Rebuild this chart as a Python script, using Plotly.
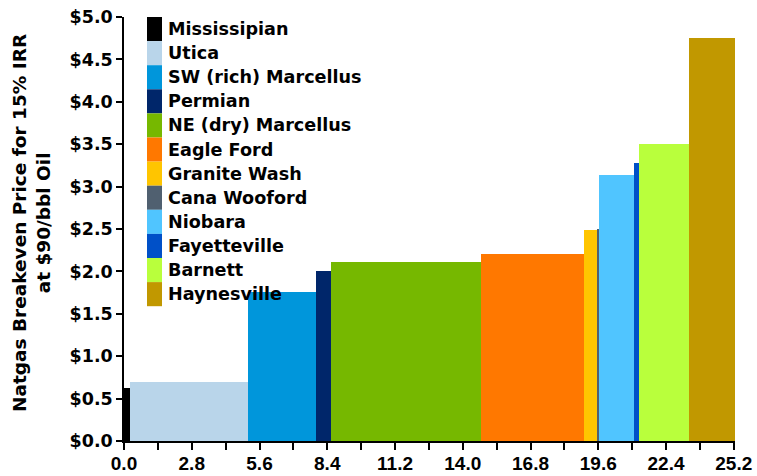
import numpy as np
import plotly.graph_objects as go

# Shale plays, ordered along the supply curve
plays = ["Mississipian", "Utica", "SW (rich) Marcellus", "Permian", "NE (dry) Marcellus",
         "Eagle Ford", "Granite Wash", "Cana Wooford", "Niobara", "Fayetteville",
         "Barnett", "Haynesville"]
# Breakeven natgas price ($/Mcf) for each play
prices = [0.62, 0.69, 1.76, 2.00, 2.11, 2.20, 2.49, 2.50, 3.14, 3.28, 3.50, 4.75]
# Width of each block along the x axis
widths = [0.25, 4.87, 2.81, 0.62, 6.20, 4.25, 0.57, 0.05, 1.46, 0.21, 2.07, 1.87]
colors = ["#000000", "#B9D5EA", "#0096DB", "#00266A", "#76B800", "#FF7800",
          "#FFC500", "#506070", "#50C5FF", "#0050C8", "#B9FF3C", "#C19800"]

x_tickvals = [round(1.4 * i, 1) for i in range(19)]
x_ticktext = [f"{v:.1f}" if i % 2 == 0 else "" for i, v in enumerate(x_tickvals)]
y_tickvals = [0.5 * i for i in range(11)]
y_ticktext = [f"${v:.1f}" for v in y_tickvals]

lefts = np.concatenate([[0], np.cumsum(widths)[:-1]])
centers = lefts + np.array(widths) / 2

W, H = 757, 476
ml, mr, mt, mb = 124, 22, 17, 35
pw, ph = W - ml - mr, H - mt - mb

fig = go.Figure()
for name, c, w, p, col in zip(plays, centers, widths, prices, colors):
    fig.add_trace(go.Bar(x=[c], y=[p], width=[w], name=name,
                         marker=dict(color=col, line=dict(width=0)),
                         showlegend=False))

# Legend block: stacked colour swatches with bold labels
row_h = 24.1
top_px = 17
shapes, annotations = [], []
for i, (name, col) in enumerate(zip(plays, colors)):
    y_top = top_px + i * row_h
    y_bot = y_top + row_h
    shapes.append(dict(type="rect", xref="paper", yref="paper",
                       x0=(147 - ml) / pw, x1=(162 - ml) / pw,
                       y0=(H - mb - y_bot) / ph, y1=(H - mb - y_top) / ph,
                       fillcolor=col, line=dict(width=0), layer="above"))
    annotations.append(dict(xref="paper", yref="paper",
                            x=(166 - ml) / pw, y=(H - mb - (y_top + row_h / 2)) / ph,
                            xanchor="left", yanchor="middle", showarrow=False,
                            text=f"<b>{name}</b>",
                            font=dict(family="DejaVu Sans", size=17.6, color="black")))

annotations.append(dict(xref="paper", yref="paper", x=0, y=(H - mb - 223) / ph,
                        xshift=32 - ml, xanchor="center", yanchor="middle",
                        textangle=-90, showarrow=False,
                        text="<b>Natgas Breakeven Price for 15% IRR<br>at $90/bbl Oil</b>",
                        font=dict(family="DejaVu Sans", size=18.5, color="black")))

fig.update_layout(
    width=W, height=H,
    margin=dict(l=ml, r=mr, t=mt, b=mb),
    paper_bgcolor="white", plot_bgcolor="white",
    bargap=0, barmode="overlay",
    shapes=shapes, annotations=annotations,
    xaxis=dict(range=[0, 25.25], tickvals=x_tickvals, ticktext=x_ticktext,
               ticks="outside", ticklen=7, tickwidth=1.5, tickcolor="black",
               showline=True, linecolor="black", linewidth=1.5,
               showgrid=False, zeroline=False, automargin=False,
               ticklabelstandoff=-3,
               tickfont=dict(family="Liberation Sans", size=19, color="black", weight="bold")),
    yaxis=dict(range=[0, 5.0], tickvals=y_tickvals, ticktext=y_ticktext,
               ticks="outside", ticklen=6, tickwidth=1.5, tickcolor="black",
               showline=True, linecolor="black", linewidth=1.5,
               showgrid=False, zeroline=False, automargin=False,
               tickfont=dict(family="DejaVu Sans", size=17.5, color="black", weight="bold")),
)

fig.write_html("out.html")
